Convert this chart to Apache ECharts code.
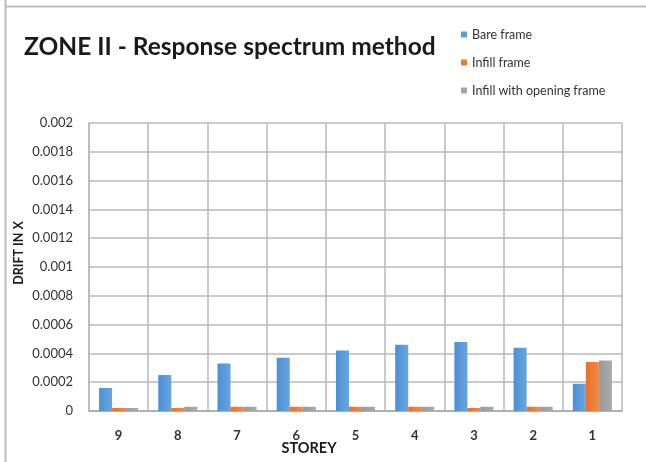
<!DOCTYPE html>
<html><head><meta charset="utf-8">
<script src="https://cdn.jsdelivr.net/npm/echarts@6/dist/echarts.min.js"></script>
<style>html,body{margin:0;padding:0;background:#fff}#c{width:646px;height:462px}</style>
</head><body><div id="c"></div>
<script>
const categories = ['9','8','7','6','5','4','3','2','1'];
const bareFrame = [0.00016,0.00025,0.00033,0.00037,0.00042,0.00046,0.00048,0.00044,0.00019];
const infillFrame = [0.00002,0.00002,0.00003,0.00003,0.00003,0.00003,0.00002,0.00003,0.00034];
const infillOpening = [0.00002,0.00003,0.00003,0.00003,0.00003,0.00003,0.00003,0.00003,0.00035];
const seriesNames = ['Bare frame','Infill frame','Infill with opening frame'];
const colors = ['#5b9bd5','#ed7d31','#a5a5a5'];
const FONT = 'Lato';
const chart = echarts.init(document.getElementById('c'));
function grad(c1,c2){return new echarts.graphic.LinearGradient(0,0,1,0,[{offset:0,color:c1},{offset:1,color:c2}]);}
const fills = [grad('#4a8fd6','#6aa6de'), grad('#e8702a','#f08a45'), grad('#999999','#ababab')];
chart.setOption({
  animation:false,
  title:{text:'ZONE II - Response spectrum method',left:19,top:30,textStyle:{fontFamily:FONT,fontWeight:'bold',fontSize:24.5,color:'#1a1a1a'}},
  legend:{orient:'vertical',left:456,top:23,itemWidth:6,itemHeight:6,itemGap:15,icon:'rect',itemTextGap:4,
    textStyle:{fontFamily:FONT,fontSize:12.5,color:'#333333'},data:seriesNames},
  grid:{left:89,right:24,top:123,bottom:51,show:false},
  xAxis:{type:'category',data:categories,
    axisLine:{lineStyle:{color:'#a6a6a6',width:1.5}},axisTick:{show:false},
    splitLine:{show:true,lineStyle:{color:'#b8b8b8',width:1.5}},
    axisLabel:{fontFamily:FONT,fontSize:13,fontWeight:'bold',color:'#333333',margin:18}},
  yAxis:{type:'value',min:0,max:0.002,interval:0.0002,
    axisLine:{show:true,lineStyle:{color:'#b8b8b8',width:1.5}},axisTick:{show:false},
    splitLine:{lineStyle:{color:'#b8b8b8',width:1.5}},
    axisLabel:{fontFamily:FONT,fontSize:13,color:'#333333',margin:16,formatter:v=>String(+v.toFixed(4))}},
  graphic:[
    {type:'line',shape:{x1:5.5,y1:0,x2:5.5,y2:462},style:{stroke:'#bdbdbd',lineWidth:2}},
    {type:'line',shape:{x1:5,y1:6.5,x2:646,y2:6.5},style:{stroke:'#bdbdbd',lineWidth:2}},
    {type:'text',x:19,y:253,rotation:Math.PI/2,style:{text:'DRIFT IN X',fontFamily:FONT,fontWeight:'bold',fontSize:12.5,fill:'#1a1a1a',align:'center',verticalAlign:'middle'}},
    {type:'text',x:309,y:448,style:{text:'STOREY',fontFamily:FONT,fontWeight:'bold',fontSize:14.5,fill:'#1a1a1a',align:'center',verticalAlign:'middle'}}
  ],
  series:[0,1,2].map(i=>({name:seriesNames[i],type:'bar',barGap:'0%',barCategoryGap:'34%',
    itemStyle:{color:fills[i]},data:[bareFrame,infillFrame,infillOpening][i]}))
});
chart.setOption({legend:{data:seriesNames.map((n,i)=>({name:n,itemStyle:{color:colors[i]}}))}});
</script></body></html>
